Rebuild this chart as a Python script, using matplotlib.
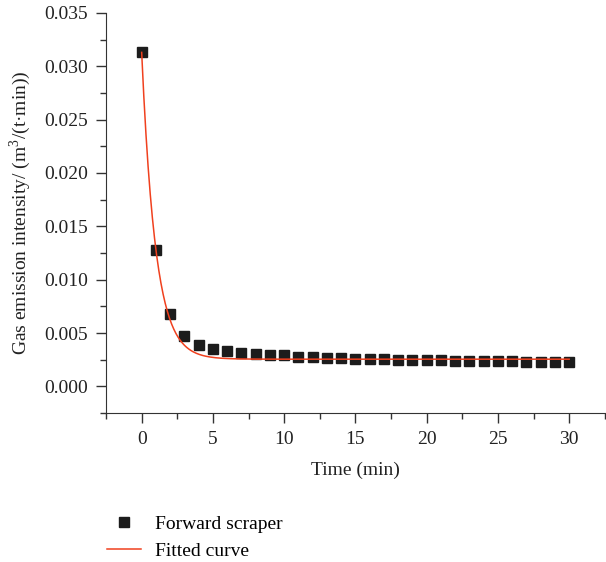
import numpy as np
import matplotlib.pyplot as plt
from matplotlib.ticker import MultipleLocator

plt.rcParams['font.family'] = ['Liberation Serif', 'DejaVu Serif']
plt.rcParams['mathtext.fontset'] = 'custom'
plt.rcParams['mathtext.rm'] = 'Liberation Serif'

# Measured data (time in min, gas emission intensity)
time_min = np.arange(0, 31)
intensity = [0.0313, 0.0128, 0.0068, 0.0047, 0.0039, 0.0035, 0.0033, 0.0031,
             0.0030, 0.0029, 0.0029, 0.0028, 0.0028, 0.0027, 0.0027, 0.0026,
             0.0026, 0.0026, 0.0025, 0.0025, 0.0025, 0.0025, 0.0024, 0.0024,
             0.0024, 0.0024, 0.0024, 0.0023, 0.0023, 0.0023, 0.0023]

# Exponential decay fit parameters: y = y0 + A*exp(-x/t1)
fit_y0 = 0.00255
fit_A = 0.02875
fit_t1 = 0.97

x_fit = np.linspace(0, 30, 400)
y_fit = fit_y0 + fit_A * np.exp(-x_fit / fit_t1)

fig = plt.figure(figsize=(6.06, 5.62), dpi=100)
ax = fig.add_axes([0.175, 0.265, 0.823, 0.712])

ax.plot(time_min, intensity, 's', color='#1c1c1c', markersize=7, label='Forward scraper')
ax.plot(x_fit, y_fit, '-', color='#f0401e', linewidth=1.1, label='Fitted curve')

ax.set_xlim(-2.5, 32.5)
ax.set_ylim(-0.0025, 0.035)
ax.xaxis.set_major_locator(MultipleLocator(5))
ax.xaxis.set_minor_locator(MultipleLocator(2.5))
ax.yaxis.set_major_locator(MultipleLocator(0.005))
ax.yaxis.set_minor_locator(MultipleLocator(0.0025))
ax.yaxis.set_major_formatter(plt.FuncFormatter(lambda v, p: f'{v:.3f}'))

for s in ['top', 'right']:
    ax.spines[s].set_visible(False)
for s in ['left', 'bottom']:
    ax.spines[s].set_color('#333333')
ax.tick_params(which='major', direction='out', length=7, width=1, labelsize=14, colors='#333333', labelcolor='#222222', pad=6)
ax.tick_params(which='minor', direction='out', length=4, width=1, colors='#333333')

ax.set_xlabel('Time (min)', fontsize=14, color='#222222', labelpad=10)
ax.set_ylabel('Gas emission intensity/ (m$^3$/(t·min))', fontsize=14, color='#222222', labelpad=8)

handles, labels = ax.get_legend_handles_labels()
fig.legend(handles, labels, loc='lower left', bbox_to_anchor=(107 / 606, 2 / 562), frameon=False,
           fontsize=14, handlelength=1.75, handletextpad=0.72, labelspacing=0.5,
           borderpad=0, borderaxespad=0)

fig.savefig('out.png', dpi=100)
